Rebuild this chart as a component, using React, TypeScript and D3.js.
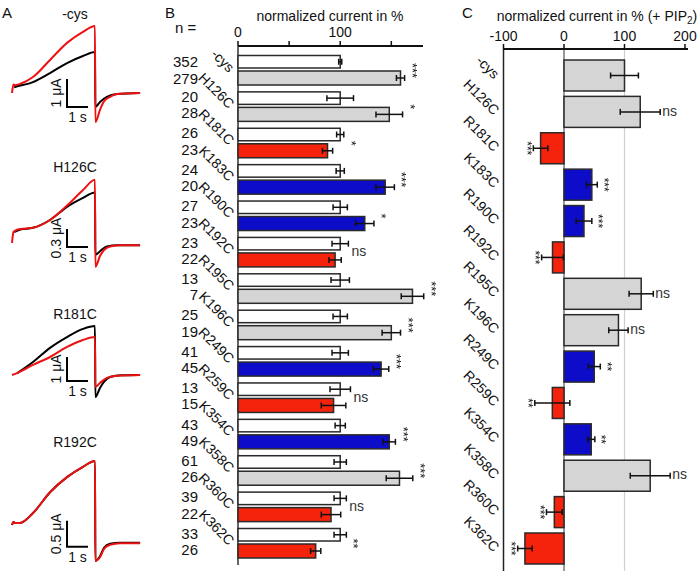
import React from 'react';
import * as d3 from 'd3';

// ---------- Data ----------
const categories = ['-cys', 'H126C', 'R181C', 'K183C', 'R190C', 'R192C', 'R195C', 'K196C', 'R249C', 'R259C', 'K354C', 'K358C', 'R360C', 'K362C'];
const nControl = [352, 20, 26, 24, 27, 23, 13, 25, 41, 13, 43, 61, 39, 33];
const nMutant = [279, 28, 23, 20, 23, 22, 7, 19, 45, 15, 49, 26, 22, 26];
const ctrlValues = [100, 100, 100, 100, 100, 100, 100, 100, 100, 100, 100, 100, 100, 100];
const ctrlErr = [1.5, 13, 3.5, 4, 7, 8, 9, 7, 8, 10, 5, 6, 6, 6];
const mutValues = [159, 148, 87.6, 144, 124, 95, 170.7, 150, 140, 93.5, 148, 158, 91, 76];
const mutErr = [4, 13, 5, 9, 9, 6, 11, 9, 7.5, 12, 6, 13, 9.5, 5];
const groupType = ['gray', 'gray', 'red', 'blue', 'blue', 'red', 'gray', 'gray', 'blue', 'red', 'blue', 'gray', 'red', 'red'];
const sigB = ['***', '*', '*', '***', '*', 'ns', '***', '***', '***', 'ns', '***', '***', 'ns', '**'];

const pipValues = [100, 126, -38.7, 46, 33, -19, 127.6, 90, 50, -19.3, 45, 142.5, -16, -64.6];
const pipErr = [23, 33, 12, 9, 13, 18, 20, 16, 10, 29, 6, 33, 13, 12];
const sigC = ['', 'ns', '***', '***', '***', '***', 'ns', 'ns', '**', '**', '**', 'ns', '***', '***'];

const ticksB = [0, 50, 100, 150];
const tickLabelsB = [0, 100];
const ticksC = [-100, 0, 100, 200];

// Panel A traces: [time s, current µA relative to baseline]
const traceTitles = ['-cys', 'H126C', 'R181C', 'R192C'];
const scaleBarAmps = [1, 0.3, 1, 0.5];
const scaleBarLabels = ['1 μA', '0.3 μA', '1 μA', '0.5 μA'];

const cysBlack: [number, number][] = [[0.1, 0.2], [0.14, 0.21], [1.0, 0.39], [1.81, 0.71], [2.62, 1.07], [3.38, 1.32], [3.95, 1.46], [3.97, -0.5], [4.19, -0.32], [4.52, -0.14], [5.0, -0.04], [6.1, 0]];
const cysRed: [number, number][] = [[0, 0], [0.07, 0.3], [0.14, 0.28], [0.4, 0.33], [1.0, 0.57], [1.81, 1.18], [2.62, 1.79], [3.38, 2.18], [3.95, 2.39], [3.97, -1.04], [4.19, -0.6], [4.38, -0.3], [4.67, -0.14], [5.0, -0.04], [6.1, 0]];
const h126Black: [number, number][] = [[0.1, 0.2], [0.4, 0.24], [1.0, 0.27], [1.81, 0.4], [2.62, 0.62], [3.38, 0.77], [3.95, 0.86], [3.97, -0.18], [4.19, -0.12], [4.52, -0.04], [5.0, -0.02], [6.1, -0.02]];
const h126Red: [number, number][] = [[0, 0.02], [0.07, 0.2], [0.14, 0.22], [0.4, 0.25], [1.0, 0.27], [1.81, 0.4], [2.62, 0.64], [3.38, 0.9], [3.95, 1.07], [3.97, -0.38], [4.19, -0.2], [4.38, -0.1], [4.67, -0.04], [5.2, -0.02], [6.1, -0.02]];
const r181Black: [number, number][] = [[0.25, 0.08], [1.0, 0.54], [1.81, 1.13], [2.62, 1.58], [3.38, 1.92], [3.95, 2.04], [3.97, -0.92], [4.19, -0.54], [4.38, -0.29], [4.67, -0.08], [5.2, -0.01], [6.1, 0]];
const r181Red: [number, number][] = [[0, 0], [0.25, 0.08], [1.0, 0.42], [1.81, 0.75], [2.62, 1.17], [3.38, 1.46], [3.95, 1.58], [3.97, -0.5], [4.19, -0.33], [4.52, -0.12], [5.0, -0.03], [6.1, 0]];
const r192Black: [number, number][] = [[0, 0], [0.07, 0.06], [0.14, 0.04], [0.38, 0.04], [1.0, 0.23], [1.81, 0.63], [2.62, 0.92], [3.38, 1.12], [3.95, 1.23], [3.97, -0.69], [4.19, -0.6], [4.38, -0.44], [4.67, -0.36], [5.14, -0.34], [6.1, -0.34]];
const r192Red: [number, number][] = [[0, 0], [0.07, 0.06], [0.14, 0.04], [0.38, 0.04], [1.0, 0.23], [1.81, 0.63], [2.62, 0.92], [3.38, 1.12], [3.95, 1.23], [3.97, -0.69], [4.19, -0.62], [4.38, -0.46], [4.67, -0.38], [5.14, -0.35], [6.1, -0.35]];
const tracesBlack = [cysBlack, h126Black, r181Black, r192Black];
const tracesRed = [cysRed, h126Red, r181Red, r192Red];

// ---------- Layout ----------
const FONT = '"Liberation Sans", Arial, sans-serif';
const COLORS: Record<string, string> = { gray: '#d5d5d5', red: '#f5220c', blue: '#0c0cc9', white: '#ffffff' };
const STROKE = '#2a2a2a';

const traceLayout = [
  { base: 93, px: 28, titleY: 15, barBottom: -0.5 },
  { base: 244, px: 60, titleY: 168, barBottom: -0.05 },
  { base: 375, px: 24, titleY: 315, barBottom: -0.25 },
  { base: 525, px: 52, titleY: 443, barBottom: -0.42 },
];

// Significance asterisks, rotated to read vertically (greyscale filter removes colour fringes)
function Stars({ s, x, y, fs }: { s: string; x: number; y: number; fs: number }) {
  return (
    <g filter="url(#grey)">
      <text transform={`translate(${x - fs * 0.3},${y}) rotate(90)`} fontSize={fs} textAnchor="middle" fontFamily={FONT} fill="#111">{s}</text>
    </g>
  );
}

export default function App() {
  const xA = d3.scaleLinear().domain([0, 1]).range([12, 33]);

  const xB = d3.scaleLinear().domain([0, 181]).range([238, 423]);
  const yB = d3.scaleBand<string>().domain(categories).range([55, 559]).paddingInner(0.148);

  const xC = d3.scaleLinear().domain([-100, 200]).range([503.5, 685]);
  const yC = d3.scaleBand<string>().domain(categories).range([60, 564]).paddingInner(0.148);

  const textBase = { fontFamily: FONT, fill: '#111' } as const;

  return (
    <svg width={700} height={571} style={{ position: 'absolute', left: 0, top: 0, background: '#fff' }}>
      <defs>
        <filter id="grey" x="-50%" y="-50%" width="200%" height="200%">
          <feColorMatrix type="saturate" values="0" />
        </filter>
      </defs>
      {/* Panel letters */}
      <text x={2} y={18} fontSize={15} {...textBase}>A</text>
      <text x={165} y={18} fontSize={15} {...textBase}>B</text>
      <text x={462} y={18} fontSize={15} {...textBase}>C</text>

      {/* ---------- Panel A ---------- */}
      {traceLayout.map((L, i) => {
        const y = d3.scaleLinear().domain([0, 1]).range([L.base, L.base - L.px]);
        const line = d3.line<[number, number]>().x(d => xA(d[0])).y(d => y(d[1])).curve(d3.curveMonotoneX);
        const barTop = y(L.barBottom + scaleBarAmps[i]);
        const barBot = y(L.barBottom);
        const bx0 = xA(2.62), bx1 = xA(3.62);
        return (
          <g key={i}>
            <text x={75} y={L.titleY} fontSize={14} textAnchor="middle" dominantBaseline="middle" {...textBase}>{traceTitles[i]}</text>
            <path d={line(tracesBlack[i]) || ''} fill="none" stroke="#000" strokeWidth={2} />
            <path d={line(tracesRed[i]) || ''} fill="none" stroke="#ee1111" strokeWidth={2} />
            <path d={`M${bx0},${barTop}V${barBot}H${bx1}`} fill="none" stroke="#000" strokeWidth={2} />
            <text transform={`translate(${bx0 - 10},${(barTop + barBot) / 2}) rotate(-90)`} fontSize={14} textAnchor="middle" dominantBaseline="middle" {...textBase}>{scaleBarLabels[i]}</text>
            <text x={(bx0 + bx1) / 2} y={barBot + 11} fontSize={14} textAnchor="middle" dominantBaseline="middle" {...textBase}>1 s</text>
          </g>
        );
      })}

      {/* ---------- Panel B ---------- */}
      <text x={330} y={17} fontSize={14} textAnchor="middle" dominantBaseline="middle" {...textBase}>normalized current in %</text>
      {tickLabelsB.map(t => (
        <text key={t} x={xB(t)} y={33} fontSize={14} textAnchor="middle" dominantBaseline="middle" {...textBase}>{t}</text>
      ))}
      <text x={175} y={29} fontSize={15} dominantBaseline="middle" {...textBase}>n =</text>
      <line x1={xB(0)} x2={423} y1={46} y2={46} stroke="#111" strokeWidth={2} />
      {ticksB.map(t => (
        <line key={t} x1={xB(t)} x2={xB(t)} y1={41} y2={46} stroke="#111" strokeWidth={1.5} />
      ))}
      <line x1={xB(0)} x2={xB(0)} y1={46} y2={565} stroke="#333" strokeWidth={1.5} />
      {categories.map((c, i) => {
        const y0 = yB(c)!;
        const bw = yB.bandwidth();
        const cy1 = y0 + 6.75;
        const cy2 = y0 + 23;
        const maxEnd = Math.max(ctrlValues[i] + ctrlErr[i], mutValues[i] + mutErr[i]);
        const mid = y0 + bw / 2;
        return (
          <g key={c}>
            <rect x={xB(0)} y={y0 + 0.5} width={xB(ctrlValues[i]) - xB(0)} height={12.5} fill={COLORS.white} stroke={STROKE} strokeWidth={1.5} />
            <rect x={xB(0)} y={y0 + 16} width={xB(mutValues[i]) - xB(0)} height={14} fill={COLORS[groupType[i]]} stroke={STROKE} strokeWidth={1.5} />
            {[[ctrlValues[i], ctrlErr[i], cy1], [mutValues[i], mutErr[i], cy2]].map(([v, e, cy], k) => (
              <g key={k} stroke="#111" strokeWidth={1.5}>
                <line x1={xB(v - e)} x2={xB(v + e)} y1={cy} y2={cy} />
                <line x1={xB(v - e)} x2={xB(v - e)} y1={cy - 3} y2={cy + 3} />
                <line x1={xB(v + e)} x2={xB(v + e)} y1={cy - 3} y2={cy + 3} />
              </g>
            ))}
            {sigB[i] === 'ns' ? (
              <text x={xB(maxEnd) + 3} y={mid} fontSize={14} dominantBaseline="middle" {...textBase} fill="#333">ns</text>
            ) : (
              <Stars s={sigB[i]} x={xB(maxEnd) + 7} y={mid} fs={13} />
            )}
            <text x={198} y={i === 0 ? cy1 + 1 : cy1} fontSize={15} textAnchor="end" dominantBaseline="middle" {...textBase}>{nControl[i]}</text>
            <text x={198} y={i === 0 ? cy2 + 2 : cy2} fontSize={15} textAnchor="end" dominantBaseline="middle" {...textBase}>{nMutant[i]}</text>
            <text transform={`translate(231,${mid}) rotate(45)`} fontSize={14} textAnchor="end" dominantBaseline="middle" {...textBase}>{c}</text>
          </g>
        );
      })}

      {/* ---------- Panel C ---------- */}
      <text x={597} y={17} fontSize={14} textAnchor="middle" dominantBaseline="middle" {...textBase}>
        normalized current in % (+ PIP<tspan fontSize={10} dy={4}>2</tspan><tspan dy={-4}>)</tspan>
      </text>
      {ticksC.map(t => (
        <text key={t} x={xC(t)} y={37} fontSize={14} textAnchor="middle" dominantBaseline="middle" {...textBase}>{t}</text>
      ))}
      <line x1={xC(100)} x2={xC(100)} y1={49} y2={571} stroke="#cfcfcf" strokeWidth={1.2} />
      <line x1={xC(0)} x2={xC(0)} y1={49} y2={571} stroke="#777" strokeWidth={1.5} />
      <line x1={xC(-100)} x2={xC(-100)} y1={49} y2={571} stroke="#222" strokeWidth={1.5} />
      <line x1={xC(-100)} x2={688} y1={49} y2={49} stroke="#111" strokeWidth={2} />
      {ticksC.map(t => (
        <line key={t} x1={xC(t)} x2={xC(t)} y1={44} y2={49} stroke="#111" strokeWidth={1.5} />
      ))}
      {categories.map((c, i) => {
        const y0 = yC(c)!;
        const bw = yC.bandwidth();
        const mid = y0 + bw / 2;
        const v = pipValues[i];
        const e = pipErr[i];
        const pos = v >= 0;
        const sx = pos ? xC(v + e) : xC(v - e);
        return (
          <g key={c}>
            <rect x={xC(Math.min(0, v))} y={y0} width={Math.abs(xC(v) - xC(0))} height={bw} fill={COLORS[groupType[i]]} stroke={STROKE} strokeWidth={1.5} />
            <g stroke="#111" strokeWidth={1.5}>
              <line x1={xC(v - e)} x2={xC(v + e)} y1={mid} y2={mid} />
              <line x1={xC(v - e)} x2={xC(v - e)} y1={mid - 3} y2={mid + 3} />
              <line x1={xC(v + e)} x2={xC(v + e)} y1={mid - 3} y2={mid + 3} />
            </g>
            {sigC[i] === 'ns' ? (
              <text x={sx + 2} y={mid} fontSize={14} dominantBaseline="middle" {...textBase} fill="#333">ns</text>
            ) : sigC[i] ? (
              <Stars s={sigC[i]} x={pos ? sx + 6 : sx - 7} y={mid} fs={12} />
            ) : null}
            <text transform={`translate(496,${mid + 1.5}) rotate(45)`} fontSize={14} textAnchor="end" dominantBaseline="middle" {...textBase}>{c}</text>
          </g>
        );
      })}
    </svg>
  );
}
